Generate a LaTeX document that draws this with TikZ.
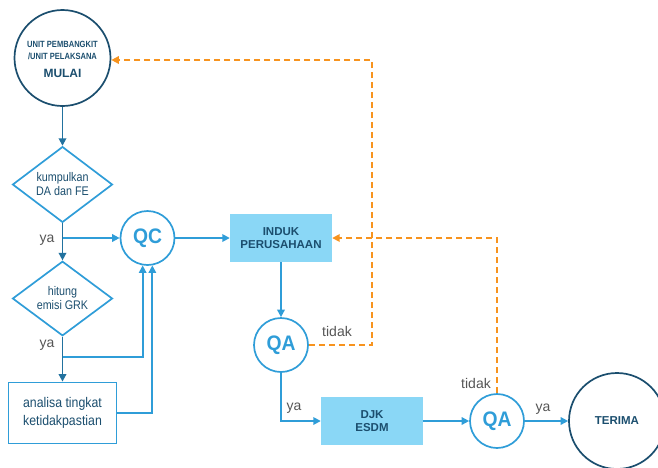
\documentclass[tikz,border=0pt]{standalone}
\usepackage{fontspec}
\setmainfont{Liberation Sans}
\usetikzlibrary{shapes.geometric,arrows.meta,calc}
\definecolor{navy}{HTML}{1B4E6E}
\definecolor{spine}{HTML}{22729F}
\definecolor{sky}{HTML}{2F9DD8}
\definecolor{skyfill}{HTML}{8AD7F6}
\definecolor{orng}{HTML}{F7931E}
\definecolor{txtgray}{HTML}{555555}
\tikzset{
  tip/.style={-{Triangle[length=7.5pt,width=7.5pt]}},
  spineline/.style={draw=spine,line width=1.7pt,tip},
  flow/.style={draw=sky,line width=1.7pt,tip},
  back/.style={draw=orng,line width=1.7pt,dash pattern=on 6pt off 4pt,tip},
  bigcircle/.style={circle,draw=navy,line width=1.7pt,minimum size=96pt,inner sep=0pt,align=center,text=navy},
  qcircle/.style={circle,draw=sky,line width=1.7pt,minimum size=54pt,inner sep=0pt,text=sky,font=\bfseries\fontsize{21}{24}\selectfont\addfontfeature{FakeStretch=0.92}},
  choice/.style={diamond,draw=sky,line width=1.7pt,minimum width=100pt,minimum height=61pt,inner sep=0pt,align=center,text=navy,font=\fontsize{12.5}{14}\selectfont\addfontfeature{FakeStretch=0.86}},
  taskbox/.style={rectangle,draw=sky,line width=1.8pt,minimum width=108pt,minimum height=61pt,align=center,text=navy,font=\fontsize{14}{18}\selectfont\addfontfeature{FakeStretch=0.88}},
  agency/.style={rectangle,fill=skyfill,minimum width=102pt,minimum height=48pt,align=center,text=navy,font=\bfseries\fontsize{11.5}{13}\selectfont},
  edgelabel/.style={text=txtgray,font=\fontsize{14}{16}\selectfont,inner sep=0pt}
}
\begin{document}
\begin{tikzpicture}[x=1pt,y=-1pt]
\useasboundingbox (0,0) rectangle (658,467);
\clip (0,0) rectangle (658,467);

% nodes
\node[bigcircle] (mulai) at (62.5,58) {};
\node[text=navy,font=\bfseries\fontsize{9}{12}\selectfont\addfontfeature{FakeStretch=0.84},align=center,inner sep=0pt] (mulaitop) at (62.5,50) {UNIT PEMBANGKIT\\/UNIT PELAKSANA};
\node[text=navy,font=\bfseries\fontsize{12}{13}\selectfont,inner sep=0pt] (mulailbl) at (62.5,73) {MULAI};

\node[choice] (d1) at (62.5,184.5) {kumpulkan\\DA dan FE};
\node[qcircle] (qc) at (147.5,238) {QC};
\node[choice] (d2) at (62.5,298.5) {hitung\\emisi GRK};
\node[taskbox] (box) at (62.5,413) {analisa tingkat\\ketidakpastian};

\node[agency] (induk) at (281,238) {INDUK\\PERUSAHAAN};
\node[qcircle] (qa1) at (281,345) {QA};
\node[agency] (djk) at (372,421) {DJK\\ESDM};
\node[qcircle] (qa2) at (497,421) {QA};
\node[bigcircle,font=\bfseries\fontsize{11.5}{13}\selectfont] (terima) at (617,421) {TERIMA};

% branch points on the left spine
\coordinate (b1) at (62.5,238);
\coordinate (b2) at (62.5,357);
\coordinate (c1) at (372,60);

% main spine
\draw[spineline] (mulai.south) -- (d1.north);
\draw[spineline] (d1.south) -- (d2.north);
\draw[spineline] (d2.south) -- (box.north);

% feeds into QC
\draw[flow] (b1) -- (qc.west);
\draw[flow] (b2) -| (qc.260);
\draw[flow] (box.east) -| (qc.280);

% right-hand flow
\draw[flow] (qc.east) -- (induk.west);
\draw[flow] (induk.south) -- (qa1.north);
\draw[flow] (qa1.south) |- (djk.west);
\draw[flow] (djk.east) -- (qa2.west);
\draw[flow] (qa2.east) -- (terima.west);

% rejections
\draw[back] (qa1.east) -| (c1) -- (mulai.east |- c1);
\draw[back] (qa2.north) |- (induk.east);

% labels
\node[edgelabel] (ya1) at (47,240) {ya};
\node[edgelabel] (ya2) at (47,345) {ya};
\node[edgelabel] (ya3) at (294,408) {ya};
\node[edgelabel] (ya4) at (543,409) {ya};
\node[edgelabel] (tidak1) at (337,331) {tidak};
\node[edgelabel] (tidak2) at (476,383) {tidak};
\end{tikzpicture}
\end{document}
